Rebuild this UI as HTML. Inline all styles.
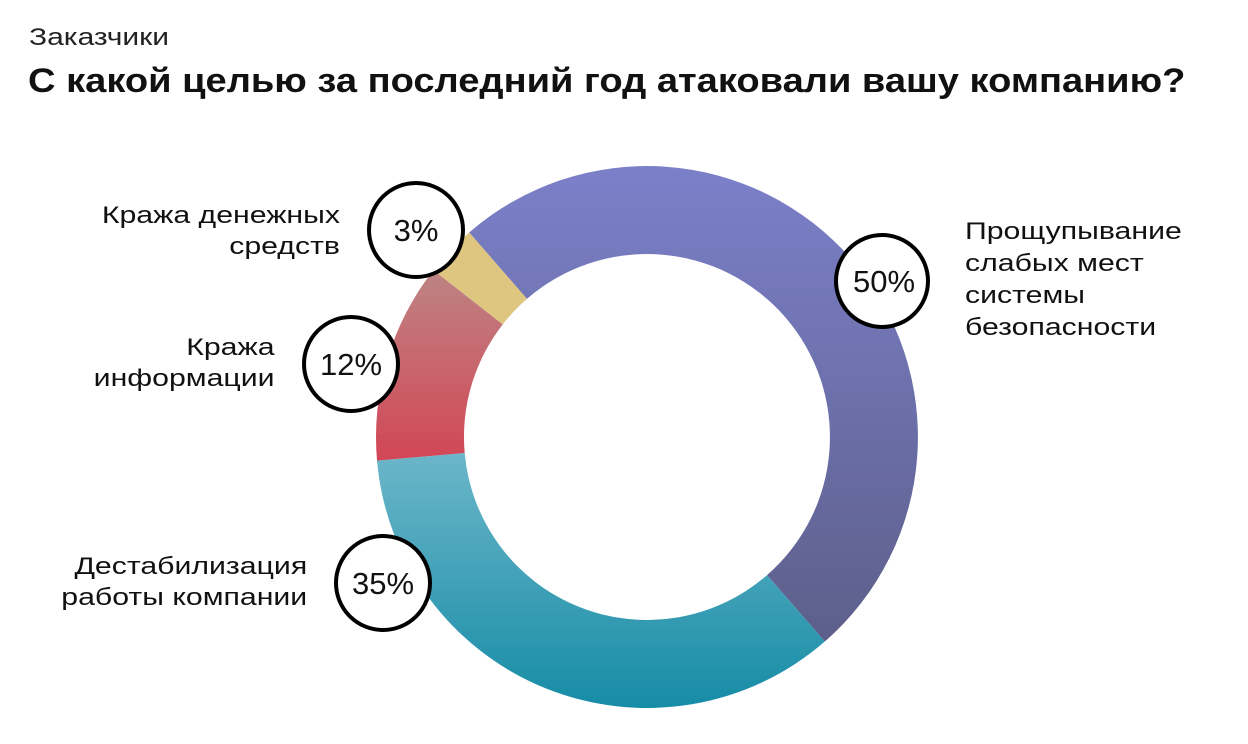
<!DOCTYPE html>
<html><head><meta charset="utf-8"><style>
body{margin:0;width:1248px;height:744px;background:#fff;overflow:hidden;font-family:"Liberation Sans",sans-serif;position:relative}
.t{position:absolute;color:#111;white-space:nowrap}
</style></head><body>
<div class="t" style="left:29px;top:24px;font-size:24px;color:#222;transform:scaleX(1.25);transform-origin:left">Заказчики</div>
<div class="t" style="left:28px;top:62px;font-size:34px;font-weight:bold;transform:scaleX(1.12);transform-origin:left">С какой целью за последний год атаковали вашу компанию?</div>
<svg width="1248" height="744" style="position:absolute;left:0;top:0">
<defs>
<linearGradient id="p" x1="0" y1="0" x2="0" y2="1"><stop offset="0" stop-color="#7b80c9"/><stop offset="1" stop-color="#5d5f8a"/></linearGradient>
<linearGradient id="c" x1="0" y1="0" x2="0" y2="1"><stop offset="0" stop-color="#6cb6c9"/><stop offset="1" stop-color="#168ca6"/></linearGradient>
<linearGradient id="r" x1="0" y1="0" x2="0" y2="1"><stop offset="0" stop-color="#bd8484"/><stop offset="1" stop-color="#d34656"/></linearGradient>
</defs>
<g id="d"></g>
<g stroke="#000" stroke-width="4" fill="#fff">
<circle cx="882" cy="281" r="46"/><circle cx="416" cy="230" r="47"/><circle cx="351" cy="364" r="47"/><circle cx="383" cy="583" r="47"/>
</g>
<g font-size="31" text-anchor="middle" fill="#111" font-family="Liberation Sans">
<text x="884" y="292">50%</text><text x="416" y="241">3%</text><text x="351" y="375">12%</text><text x="383" y="594">35%</text>
</g>
</svg>
<div class="t" style="left:965px;top:216px;font-size:24px;line-height:32px;transform:scaleX(1.26);transform-origin:left">Прощупывание<br>слабых мест<br>системы<br>безопасности</div>
<div class="t" style="right:908px;top:200px;text-align:right;font-size:24px;line-height:31px;transform:scaleX(1.26);transform-origin:right">Кража денежных<br>средств</div>
<div class="t" style="right:973px;top:332px;text-align:right;font-size:24px;line-height:31px;transform:scaleX(1.26);transform-origin:right">Кража<br>информации</div>
<div class="t" style="right:941px;top:551px;text-align:right;font-size:24px;line-height:31px;transform:scaleX(1.26);transform-origin:right">Дестабилизация<br>работы компании</div>
<script>
var cx=647,cy=437,R=271,r=183,segs=[[-41,139,'url(#p)'],[139,265,'url(#c)'],[265,308,'url(#r)'],[308,319,'#dfc680']];
function pt(a,rr){a=a*Math.PI/180;return [cx+rr*Math.sin(a),cy-rr*Math.cos(a)];}
var g=document.getElementById('d'),h='';
segs.forEach(function(s){var a=pt(s[0],R),b=pt(s[1],R),c=pt(s[1],r),d=pt(s[0],r),l=(s[1]-s[0])>180?1:0;
h+='<path fill="'+s[2]+'" d="M'+a+' A'+R+' '+R+' 0 '+l+' 1 '+b+' L'+c+' A'+r+' '+r+' 0 '+l+' 0 '+d+'Z"/>';});
g.innerHTML=h;
</script>
</body></html>
